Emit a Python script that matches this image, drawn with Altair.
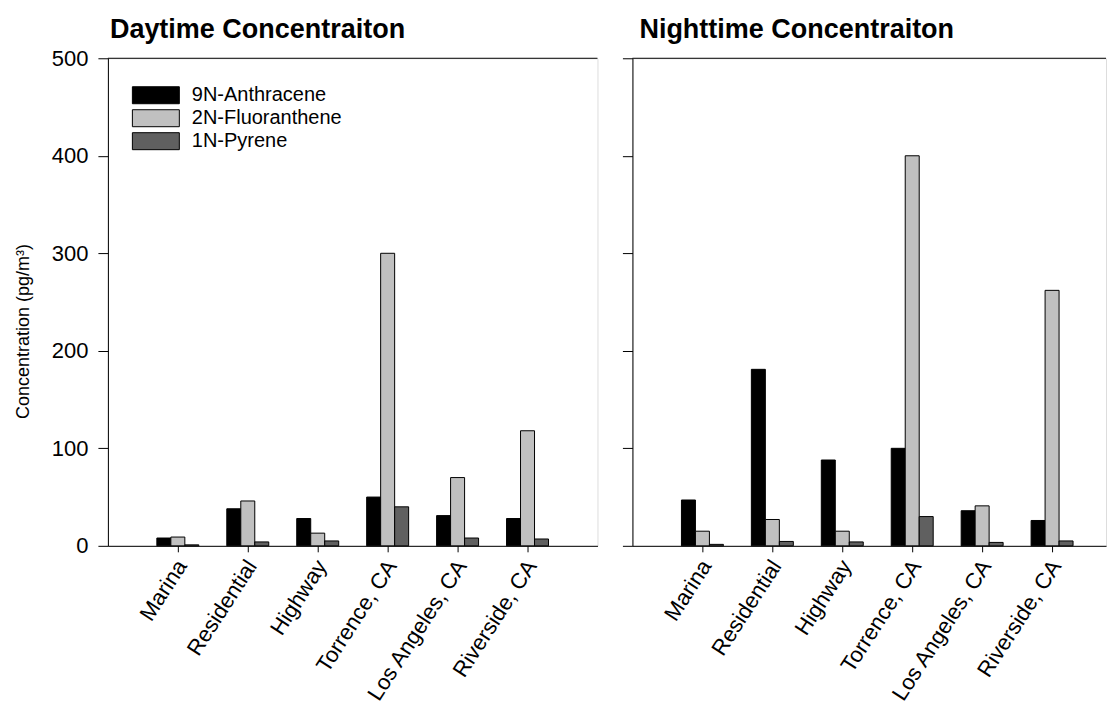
import altair as alt
import pandas as pd

sites = ["Marina", "Residential", "Highway", "Torrence, CA", "Los Angeles, CA", "Riverside, CA"]
compounds = ["9N-Anthracene", "2N-Fluoranthene", "1N-Pyrene"]
colors = ["#000000", "#c0c0c0", "#606060"]

day_anthracene = [8, 38, 28, 50, 31, 28]
day_fluoranthene = [9, 46, 13, 300, 70, 118]
day_pyrene = [1, 4, 5, 40, 8, 7]

night_anthracene = [47, 181, 88, 100, 36, 26]
night_fluoranthene = [15, 27, 15, 400, 41, 262]
night_pyrene = [1.5, 4.5, 4, 30, 3.5, 5]

FONT = "Liberation Sans"


def make_df(a, f, p):
    rows = []
    for i, s in enumerate(sites):
        for c, v in zip(compounds, [a[i], f[i], p[i]]):
            rows.append({"site": s, "compound": c, "value": v})
    return pd.DataFrame(rows)


def panel(df, title, first, title_dx, title_offset, width, x_scale):
    yaxis = alt.Axis(
        values=[0, 100, 200, 300, 400, 500], grid=False, tickSize=10,
        labelFontSize=22, labelPadding=10, domainColor="black", tickColor="black",
        labelColor="black", labelFont=FONT, titleFont=FONT, titleFontSize=18,
        titleFontWeight="normal", titleColor="black",
        titleX=-93, titleY=273, titleBaseline="top", titleAlign="center", titleAngle=270,
        title="Concentration (pg/m³)" if first else None,
        labels=first,
    )
    if first:
        legend = alt.Legend(
            title=None, orient="none", legendX=23, legendY=27,
            symbolType="M-1,-1H4.53V1H-1Z", symbolSize=289,
            symbolStrokeColor="black", symbolStrokeWidth=1, symbolOpacity=1,
            labelFontSize=20, labelFont=FONT, labelColor="black",
            labelOffset=41, rowPadding=1,
        )
    else:
        legend = None
    bars = alt.Chart(df).mark_bar(stroke="black", strokeWidth=1, opacity=1).encode(
        x=alt.X(
            "site:N", sort=sites,
            scale=x_scale,
            axis=alt.Axis(
                title=None, labelAngle=-57, labelFontSize=22, labelFont=FONT,
                labelColor="black", tickSize=6, labelPadding=10, labelOffset=4,
                domainColor="black", tickColor="black", labelOverlap=False,
            ),
        ),
        xOffset=alt.XOffset("compound:N", sort=compounds,
                            scale=alt.Scale(domain=compounds, paddingInner=0, paddingOuter=0)),
        y=alt.Y("value:Q", scale=alt.Scale(domain=[0, 500], nice=False), axis=yaxis),
        fill=alt.Fill("compound:N", sort=compounds,
                      scale=alt.Scale(domain=compounds, range=colors), legend=legend),
    )
    top = alt.Chart(pd.DataFrame({"v": [500]})).mark_rule(color="black", strokeWidth=1).encode(
        y=alt.Y("v:Q")
    )
    return alt.layer(bars, top).properties(
        width=width, height=488,
        title=alt.TitleParams(title, anchor="start", fontSize=27, fontWeight="bold",
                              font=FONT, color="black", dx=title_dx, offset=title_offset,
                              frame="group", baseline="alphabetic"),
    )


left = panel(make_df(day_anthracene, day_fluoranthene, day_pyrene),
             "Daytime Concentraiton", True, 2, -18, 490,
             alt.Scale(paddingInner=0.4, paddingOuter=0.7))
right = panel(make_df(night_anthracene, night_fluoranthene, night_pyrene),
              "Nighttime Concentraiton", False, 7, -7, 474,
              alt.Scale(paddingInner=0.4, paddingOuter=0.586, align=0.598))

chart = alt.hconcat(left, right, spacing=23).resolve_legend(fill="independent").properties(
    padding={"left": 14, "top": 15, "right": 0, "bottom": 0}
).configure_view(stroke=None).configure(background="white")

chart.save("out.html", embed_options={"renderer": "svg", "actions": False})
